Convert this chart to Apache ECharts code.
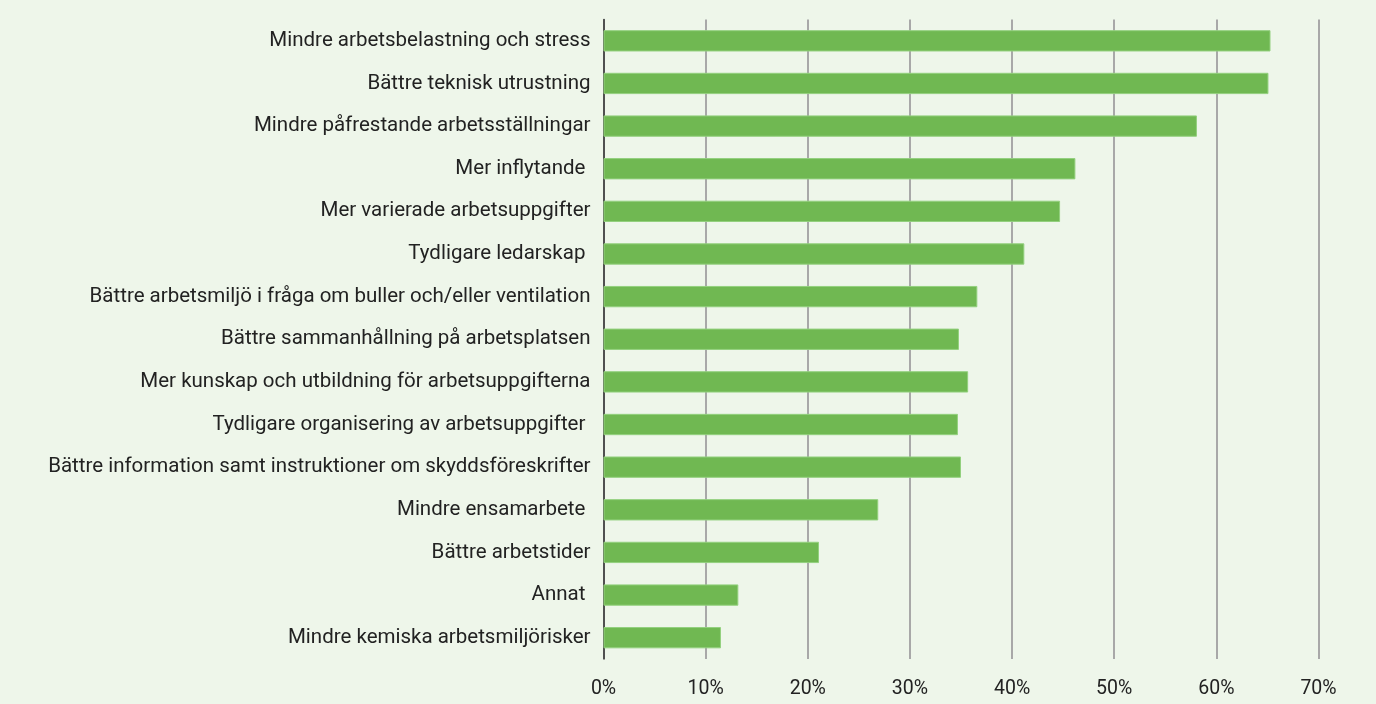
<!DOCTYPE html>
<html>
<head>
<meta charset="utf-8">
<script src="https://cdn.jsdelivr.net/npm/echarts@6/dist/echarts.min.js"></script>
<style>
  html, body { margin: 0; padding: 0; background: #eef6ea; }
  #chart { width: 1376px; height: 704px; }
</style>
</head>
<body>
<div id="chart"></div>
<script>
// Survey answers: what would improve the work environment (share of respondents, %)
const categories = [
  'Mindre arbetsbelastning och stress',
  'Bättre teknisk utrustning',
  'Mindre påfrestande arbetsställningar',
  'Mer inflytande ',
  'Mer varierade arbetsuppgifter',
  'Tydligare ledarskap ',
  'Bättre arbetsmiljö i fråga om buller och/eller ventilation',
  'Bättre sammanhållning på arbetsplatsen',
  'Mer kunskap och utbildning för arbetsuppgifterna',
  'Tydligare organisering av arbetsuppgifter ',
  'Bättre information samt instruktioner om skyddsföreskrifter',
  'Mindre ensamarbete ',
  'Bättre arbetstider',
  'Annat ',
  'Mindre kemiska arbetsmiljörisker'
];
const shares = [65.3, 65.1, 58.1, 46.2, 44.7, 41.2, 36.6, 34.8, 35.7, 34.7, 35.0, 26.9, 21.1, 13.2, 11.5];
const axisMax = 70;
const axisStep = 10;

const chart = echarts.init(document.getElementById('chart'), null, { renderer: 'canvas' });
const font = 'Roboto, "Noto Sans", sans-serif';

chart.setOption({
  backgroundColor: '#eef6ea',
  animation: false,
  grid: { left: 603.5, right: 57.5, top: 19.5, bottom: 45, containLabel: false },
  xAxis: {
    type: 'value',
    min: 0,
    max: axisMax,
    interval: axisStep,
    axisLine: { show: false },
    axisTick: { show: false },
    splitLine: { show: true, lineStyle: { color: '#a8a8a8', width: 2 } },
    axisLabel: {
      formatter: '{value}%',
      color: '#222',
      fontFamily: font,
      fontSize: 19.5,
      margin: 20
    }
  },
  yAxis: {
    type: 'category',
    inverse: true,
    data: categories,
    axisLine: { show: true, onZero: false, lineStyle: { color: '#333', width: 1.5 } },
    axisTick: { show: false },
    axisLabel: {
      color: '#222',
      fontFamily: font,
      fontSize: 20.5,
      margin: 13
    }
  },
  series: [{
    type: 'bar',
    data: shares,
    barWidth: '50%',
    itemStyle: { color: '#70b852', borderColor: '#93d07e', borderWidth: 1 }
  }]
});
</script>
</body>
</html>
